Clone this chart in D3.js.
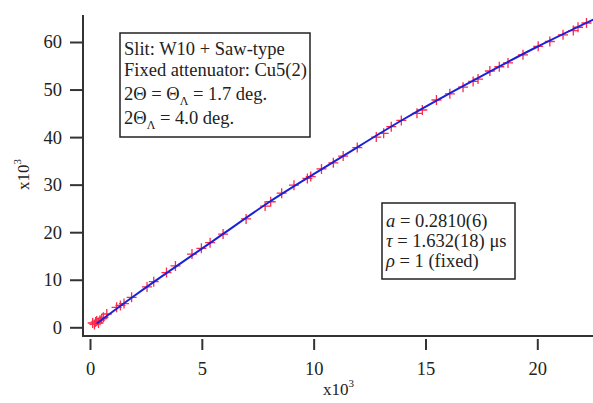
<!DOCTYPE html>
<html>
<head>
<meta charset="utf-8">
<script src="https://cdn.jsdelivr.net/npm/d3@7"></script>
<style>
  body { margin: 0; background: #fff; }
  text { font-family: "Liberation Serif", "DejaVu Serif", serif; fill: #222; }
</style>
</head>
<body>
<div id="chart"></div>
<script>
// measured counts (x10^3)
const measX = [0.12, 0.2, 0.25, 0.3, 0.38, 0.45, 0.52, 0.6, 0.75, 1.19, 1.36, 1.52, 1.86, 2.55, 2.85,
  3.42, 3.82, 4.56, 4.98, 5.37, 5.95, 6.98, 7.83, 8.08, 8.57, 9.12, 9.72, 9.87, 10.35, 10.88,
  11.32, 11.95, 12.8, 13.13, 13.47, 13.92, 14.62, 14.86, 15.49, 16.09, 16.68, 17.13, 17.35,
  17.88, 18.3, 18.69, 19.36, 20.04, 20.56, 21.15, 21.61, 21.82, 22.2];
const measY = [0.9, 0.6, 1.1, 1.3, 0.9, 1.5, 1.8, 2.1, 2.8, 4.2, 4.6, 5.0, 6.3, 8.5, 9.6,
  11.5, 12.9, 15.4, 16.6, 17.8, 19.6, 22.8, 25.5, 26.4, 28.2, 29.9, 31.3, 31.7, 33.3, 34.6,
  36.0, 37.8, 40.0, 40.8, 42.2, 43.5, 45.0, 45.7, 47.8, 49.1, 50.5, 51.7, 52.2,
  53.9, 54.8, 55.6, 57.3, 59.1, 60.1, 61.5, 62.4, 63.1, 64.0];

// fitted curve
const fitX = [0.3, 2, 4, 6, 8, 10, 12, 14, 16, 18, 20, 22.5];
const fitY = [0.8, 6.7, 13.3, 19.8, 26.3, 32.2, 38.0, 43.7, 49.0, 54.1, 59.0, 64.7];

const xTicks = [0, 5, 10, 15, 20];
const yTicks = [0, 10, 20, 30, 40, 50, 60];

const box1 = ["Slit: W10 + Saw-type", "Fixed attenuator: Cu5(2)"];

const W = 593, H = 403;
const svg = d3.select("#chart").append("svg")
    .attr("width", W)
    .attr("height", H);

const axLeft = 83, axRight = 593, axTop = 15, axBottom = 336;

const x = d3.scaleLinear().domain([0, 20]).range([90, 537.3]);
const y = d3.scaleLinear().domain([0, 60]).range([327.3, 42]);

// axes lines
svg.append("line").attr("x1", axLeft).attr("x2", axLeft).attr("y1", axTop).attr("y2", axBottom)
    .attr("stroke", "#333").attr("stroke-width", 2);
svg.append("line").attr("x1", axLeft - 1).attr("x2", axRight).attr("y1", axBottom).attr("y2", axBottom)
    .attr("stroke", "#333").attr("stroke-width", 2);

// y axis
const yAxis = svg.append("g")
    .attr("transform", `translate(${axLeft},0)`)
    .call(d3.axisLeft(y).tickValues(yTicks).tickSize(13).tickPadding(8).tickFormat(d3.format("d")));
yAxis.select(".domain").remove();
yAxis.selectAll(".tick line").attr("stroke", "#333").attr("stroke-width", 2);
yAxis.selectAll(".tick text").attr("font-size", 18.5).attr("fill", "#333")
    .attr("font-family", "Liberation Serif, serif");

// x axis
const xAxis = svg.append("g")
    .attr("transform", `translate(0,${axBottom + 3})`)
    .call(d3.axisBottom(x).tickValues(xTicks).tickSize(11).tickPadding(12).tickFormat(d3.format("d")));
xAxis.select(".domain").remove();
xAxis.selectAll(".tick line").attr("stroke", "#333").attr("stroke-width", 2);
xAxis.selectAll(".tick text").attr("font-size", 18.5).attr("fill", "#333")
    .attr("font-family", "Liberation Serif, serif");

// axis unit labels
const xl = svg.append("text").attr("x", 323).attr("y", 395).attr("font-size", 17).attr("fill", "#333");
xl.append("tspan").text("x10");
xl.append("tspan").attr("dy", -8).attr("font-size", 11).text("3");

const yl = svg.append("text").attr("transform", "translate(29,190) rotate(-90)").attr("font-size", 17).attr("fill", "#333");
yl.append("tspan").text("x10");
yl.append("tspan").attr("dy", -8).attr("font-size", 11).text("3");

// data
const pts = measX.map((v, i) => [v, measY[i]]);
const fit = fitX.map((v, i) => [v, fitY[i]]);

svg.append("g").selectAll("path")
    .data(pts)
    .join("path")
    .attr("d", d => {
        const cx = x(d[0]), cy = y(d[1]), s = 5;
        return `M${cx - s},${cy}H${cx + s}M${cx},${cy - s}V${cy + s}`;
    })
    .attr("stroke", "#ff2a4a")
    .attr("stroke-width", 1.3)
    .attr("fill", "none");

svg.append("path")
    .datum(fit)
    .attr("fill", "none")
    .attr("stroke", "#1a22d8")
    .attr("stroke-width", 2)
    .attr("d", d3.line().x(d => x(d[0])).y(d => y(d[1])).curve(d3.curveNatural));

// annotation box 1
svg.append("rect").attr("x", 120).attr("y", 33).attr("width", 190).attr("height", 104)
    .attr("fill", "#fff").attr("stroke", "#222").attr("stroke-width", 1.5);
const t1 = svg.append("g").attr("font-size", 18.5);
box1.forEach((s, i) => t1.append("text").attr("x", 124).attr("y", 55 + i * 21).text(s));
let r = t1.append("text").attr("x", 124).attr("y", 100);
r.append("tspan").text("2Θ = Θ");
r.append("tspan").attr("font-size", 12).attr("dy", 5).text("Λ");
r.append("tspan").attr("dy", -5).text(" = 1.7 deg.");
r = t1.append("text").attr("x", 124).attr("y", 124);
r.append("tspan").text("2Θ");
r.append("tspan").attr("font-size", 12).attr("dy", 5).text("Λ");
r.append("tspan").attr("dy", -5).text(" = 4.0 deg.");

// annotation box 2
svg.append("rect").attr("x", 382).attr("y", 203).attr("width", 133).attr("height", 76)
    .attr("fill", "#fff").attr("stroke", "#222").attr("stroke-width", 1.5);
const t2 = svg.append("g").attr("font-size", 18.5);
[["a", " = 0.2810(6)"], ["τ", " = 1.632(18) μs"], ["ρ", " = 1 (fixed)"]].forEach((p, i) => {
    const tt = t2.append("text").attr("x", 386).attr("y", 227 + i * 20);
    tt.append("tspan").attr("font-style", "italic").text(p[0]);
    tt.append("tspan").text(p[1]);
});
</script>
</body>
</html>
